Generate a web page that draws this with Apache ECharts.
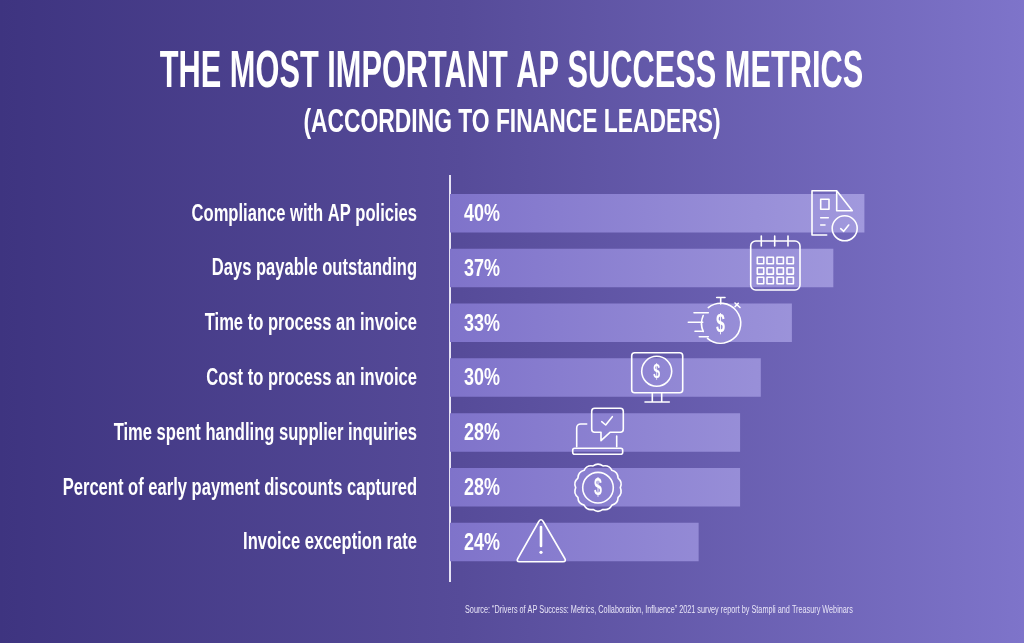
<!DOCTYPE html>
<html><head><meta charset="utf-8">
<style>html,body{margin:0;padding:0;background:#5a4fa0}#c{width:1024px;height:643px}</style>
<script src="https://cdn.jsdelivr.net/npm/echarts@6/dist/echarts.min.js"></script>
</head><body><div id="c"></div>
<script>
const categories = ["Compliance with AP policies","Days payable outstanding","Time to process an invoice","Cost to process an invoice","Time spent handling supplier inquiries","Percent of early payment discounts captured","Invoice exception rate"];
const shares = [40,37,33,30,28,28,24];
const titleText = "THE MOST IMPORTANT AP SUCCESS METRICS";
const subtitleText = "(ACCORDING TO FINANCE LEADERS)";
const sourceText = "Source: \u201cDrivers of AP Success: Metrics, Collaboration, Influence\u201d 2021 survey report by Stampli and Treasury Webinars";
const FONT = '"Liberation Sans"';
const W = {stroke:'#fff',fill:'none',lineWidth:1.6,lineJoin:'round',lineCap:'round'};
const path = (d,extra) => ({type:'path',shape:{pathData:d},style:Object.assign({},W,extra||{}),silent:true});
const circle = (cx,cy,r) => ({type:'circle',shape:{cx,cy,r},style:W,silent:true});
const dollar = (x,y,size) => ({type:'text',x,y,scaleX:0.62,silent:true,style:{text:'$',fill:'#fff',font:`bold ${size}px ${FONT}`,textAlign:'center',textVerticalAlign:'middle'}});
function scallop(cx,cy,r,n,amp){
  let d='';
  for(let i=0;i<n;i++){
    const a0=i/n*2*Math.PI, a1=(i+1)/n*2*Math.PI, m=(a0+a1)/2;
    const p=[cx+r*Math.cos(a0),cy+r*Math.sin(a0)], q=[cx+r*Math.cos(a1),cy+r*Math.sin(a1)], c=[cx+(r+amp)*Math.cos(m),cy+(r+amp)*Math.sin(m)];
    d+=(i?'':`M${p[0]} ${p[1]}`)+`Q${c[0]} ${c[1]} ${q[0]} ${q[1]}`;
  }
  return d+'Z';
}
const calCells=[];
[257.3,267.7,277.3].forEach(y=>[757.3,767,777,787].forEach(x=>calCells.push(`M${x} ${y}h6.4v6.4h-6.4Z`)));
const icons=[
 // document + check
 path('M826.7 235H812V190.7H836.7L852.3 210.7H836.7V190.7'),
 path('M820.7 199.3H829V209.3H820.7Z'),
 path('M820.7 217.7H828.3M820.7 225H825'),
 circle(844.7,228.3,12.5),
 path('M840.7 228.7L843.7 231.3L848.7 225'),
 // calendar
 path('M755.7 241H795A5 5 0 0 1 800 246V285A5 5 0 0 1 795 290H755.7A5 5 0 0 1 750.7 285V246A5 5 0 0 1 755.7 241Z'),
 path('M761.3 236V246M774.7 236V246M788 236V246'),
 path(calCells.join('')),
 // stopwatch
 path('M708.3 307.6A20 20 0 1 1 707.5 338.3M703.2 315.5A20 20 0 0 0 703.2 331.5'),
 path('M720.7 298V304M716.7 297.5H725M735 306.7L738.3 303.3M735 303L740 307.5'),
 path('M694 312.7H708.3M688.3 322.3H702.7M695 331.3H703.3M699.3 336.7H708.3'),
 dollar(720.5,325,26),
 // monitor
 path('M634.7 352.7H679.7A3 3 0 0 1 682.7 355.7V389.7A3 3 0 0 1 679.7 392.7H634.7A3 3 0 0 1 631.7 389.7V355.7A3 3 0 0 1 634.7 352.7Z'),
 circle(656.7,371.3,15),
 dollar(656.7,372,20),
 path('M652.3 393V401.7M661.7 393V401.7M645 402H669.3'),
 // laptop + bubble
 path('M594.7 408.3H620.3A3 3 0 0 1 623.3 411.3V429.3A3 3 0 0 1 620.3 432.3H610L601 440.7V432.3H594.7A3 3 0 0 1 591.7 429.3V411.3A3 3 0 0 1 594.7 408.3Z'),
 path('M601.7 421.7L605.7 425L612.3 416.7'),
 path('M576.7 446.7V428A4 4 0 0 1 580.7 424H586.7M616.7 436V446.7'),
 path('M574.7 448.3H620.7A2 2 0 0 1 622.7 450.3V452.3A2 2 0 0 1 620.7 454.3H574.7A2 2 0 0 1 572.7 452.3V450.3A2 2 0 0 1 574.7 448.3Z'),
 // badge
 path(scallop(598,487.7,22.3,14,3.2)),
 circle(598,487.7,15.3),
 dollar(598,488.5,23),
 // warning
 path('M538.8 521.5Q541 518 543.2 521.5L564.8 558.5Q566.5 561.7 563 561.7H519.5Q516 561.7 517.8 558.5Z'),
 path('M541 527L541 546',{lineWidth:2.6}),
 {type:'circle',shape:{cx:541,cy:552.3,r:1.6},style:{fill:'#fff'},silent:true}
];
const condensed = (text,x,y,align,size,sx,weight) => ({type:'text',x,y,scaleX:sx,silent:true,style:{text,fill:'#fff',font:`${weight} ${size}px ${FONT}`,textAlign:align,textVerticalAlign:'middle'}});
const chart = echarts.init(document.getElementById('c'),null,{renderer:'canvas'});
chart.setOption({
  animation:false,
  backgroundColor:new echarts.graphic.LinearGradient(0,0,1,0,[{offset:0,color:'#3e3480'},{offset:0.45,color:'#564b99'},{offset:1,color:'#7e74ca'}]),
  grid:{left:450,top:185.8,width:518,height:383.6},
  xAxis:{type:'value',min:0,max:50,show:false},
  yAxis:{type:'category',inverse:true,data:categories,axisLine:{show:false},axisTick:{show:false},axisLabel:{show:false}},
  series:[
   {type:'bar',z:1,data:shares,barWidth:38.5,silent:true,
    itemStyle:{color:new echarts.graphic.LinearGradient(450,0,865,0,[{offset:0,color:'#7f73ca'},{offset:1,color:'#a199dd'}],true)}},
   {type:'custom',z:5,data:shares.map((v,i)=>[v,i]),silent:true,encode:{x:0,y:1},clip:false,
    renderItem(params,api){
      const i=api.value(1), p=api.coord([0,i]);
      return {type:'group',children:[
        condensed(categories[i],p[0]-33,p[1]+1,'right',23,0.72,'bold'),
        condensed(api.value(0)+'%',p[0]+14,p[1]+1.5,'left',23,0.78,'bold')
      ]};
    }},
   {type:'custom',z:6,coordinateSystem:'none',data:[0],silent:true,
    renderItem(){return {type:'group',children:icons};}}
  ],
  graphic:[
    {type:'line',shape:{x1:450,y1:175,x2:450,y2:582},style:{stroke:'#e6e3f5',lineWidth:2},silent:true},
    {type:'text',x:511.5,y:73,scaleX:0.603,silent:true,style:{text:titleText,fill:'#fff',font:`bold 51px ${FONT}`,textAlign:'center',textVerticalAlign:'middle'}},
    {type:'text',x:512,y:123,scaleX:0.672,silent:true,style:{text:subtitleText,fill:'#fff',font:`bold 34px ${FONT}`,textAlign:'center',textVerticalAlign:'middle'}},
    {type:'text',x:465,y:610,scaleX:0.727,silent:true,style:{text:sourceText,fill:'#e8e5f7',font:`10px ${FONT}`,textAlign:'left',textVerticalAlign:'middle'}}
  ]
});
</script></body></html>
